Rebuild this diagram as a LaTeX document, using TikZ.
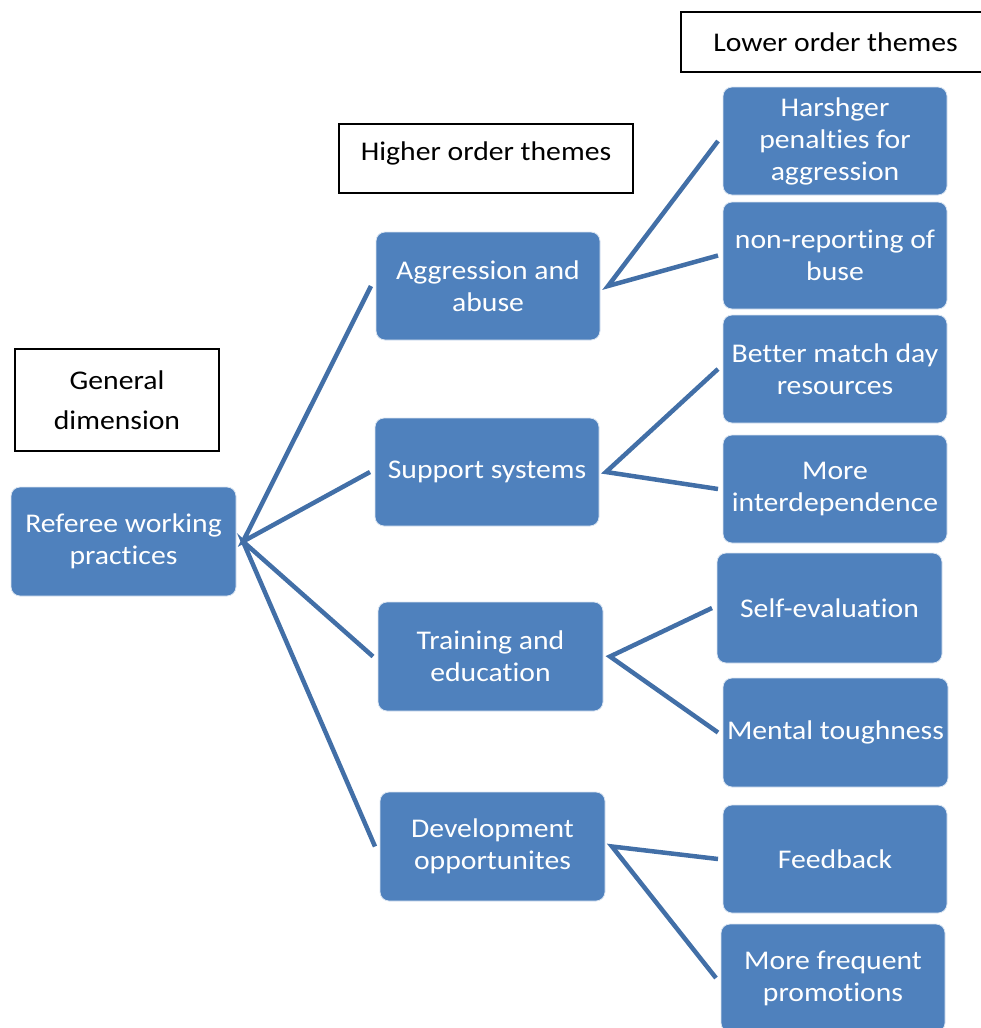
\documentclass[tikz,border=0pt]{standalone}
\usepackage{fontspec}
\setmainfont{Carlito}[FakeStretch=1.1, Ligatures={NoCommon}]
\definecolor{boxblue}{RGB}{79,129,189}
\definecolor{connblue}{RGB}{66,111,167}
\begin{document}
\begin{tikzpicture}[x=1pt,y=-1pt,
  bx/.style={rectangle, rounded corners=9pt, fill=boxblue, draw=white!80!boxblue, line width=0.8pt, text=white, align=center, inner sep=0pt, outer sep=0pt, font=\fontsize{27}{32}\selectfont},
  lbl/.style={rectangle, draw=black, line width=1.5pt, fill=white, text=black, align=center, inner sep=0pt, outer sep=0pt, font=\fontsize{27}{32}\selectfont},
  conn/.style={draw=connblue, line width=4.5pt, line join=miter, line cap=butt}]
\useasboundingbox (0,0) rectangle (981,1028);

% label boxes
\node[lbl, minimum width=309pt, minimum height=60pt] (lower) at (835.5,42) {Lower order themes};
\node[lbl, minimum width=294pt, minimum height=69pt] (higher) at (486,158.5) {\raisebox{5pt}[\height][\depth]{Higher order themes}};
\node[lbl, minimum width=204pt, minimum height=102pt] (general) at (117,400) {General\\[8pt]dimension};

% general dimension
\node[bx, minimum width=225pt, minimum height=109pt] (ref) at (123.5,541.5) {Referee working\\practices};

% higher order themes
\node[bx, minimum width=224pt, minimum height=108pt] (agg) at (488,286) {Aggression and\\abuse};
\node[bx, minimum width=224pt, minimum height=108pt] (sup) at (487,472) {Support systems};
\node[bx, minimum width=225pt, minimum height=109pt] (train) at (490.5,656.5) {Training and\\education};
\node[bx, minimum width=225pt, minimum height=109pt] (dev) at (492.5,846.5) {Development\\opportunites};

% lower order themes
\node[bx, minimum width=224pt, minimum height=108pt] (harsh) at (835,141) {Harshger\\penalties for\\aggression};
\node[bx, minimum width=224pt, minimum height=107pt] (nonrep) at (835,255.5) {non-reporting of\\buse};
\node[bx, minimum width=224pt, minimum height=108pt] (better) at (835,369) {Better match day\\resources};
\node[bx, minimum width=224pt, minimum height=108pt] (more) at (835,489) {More\\interdependence};
\node[bx, minimum width=225pt, minimum height=110pt] (self) at (829.5,608) {Self-evaluation};
\node[bx, minimum width=225pt, minimum height=109pt] (mental) at (835.5,732.5) {Mental toughness};
\node[bx, minimum width=224pt, minimum height=108pt] (feed) at (835,859) {Feedback};
\node[bx, minimum width=224pt, minimum height=108pt] (promo) at (833,978) {More frequent\\promotions};

% connectors
\draw[conn] ([xshift=-5pt]agg.west) -- ([xshift=7pt]ref.east) -- ([xshift=-5pt]sup.west);
\draw[conn] ([xshift=-5pt]train.west) -- ([xshift=7pt]ref.east) -- ([xshift=-5pt]dev.west);

\draw[conn] ([xshift=-5pt]harsh.west) -- ([xshift=8pt]agg.east) -- ([xshift=-5pt]nonrep.west);
\draw[conn] ([xshift=-5pt]better.west) -- ([xshift=7pt]sup.east) -- ([xshift=-5pt]more.west);
\draw[conn] ([xshift=-5pt]self.west) -- ([xshift=7pt]train.east) -- ([xshift=-5pt]mental.west);
\draw[conn] ([xshift=-5pt]feed.west) -- ([xshift=7pt]dev.east) -- ([xshift=-5pt]promo.west);
\end{tikzpicture}
\end{document}
